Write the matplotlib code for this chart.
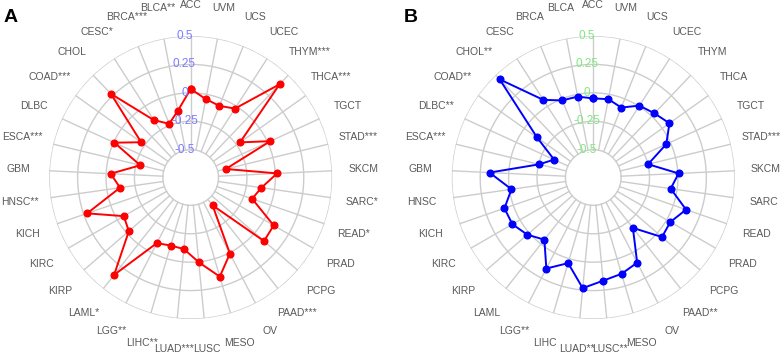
import numpy as np
import matplotlib
matplotlib.use("Agg")
import matplotlib.pyplot as plt

# ---------------- data ----------------
CANCERS = ["ACC", "BLCA", "BRCA", "CESC", "CHOL", "COAD", "DLBC", "ESCA", "GBM",
           "HNSC", "KICH", "KIRC", "KIRP", "LAML", "LGG", "LIHC", "LUAD", "LUSC",
           "MESO", "OV", "PAAD", "PCPG", "PRAD", "READ", "SARC", "SKCM", "STAD",
           "TGCT", "THCA", "THYM", "UCEC", "UCS", "UVM"]

STARS_A = ["", "**", "***", "*", "", "***", "", "***", "",
           "**", "", "", "", "*", "**", "**", "***", "",
           "", "", "***", "", "", "*", "*", "", "***",
           "", "***", "***", "", "", ""]

STARS_B = ["", "", "", "", "**", "**", "**", "***", "",
           "", "", "", "", "", "**", "", "**", "**",
           "", "", "**", "", "", "", "", "", "***",
           "", "", "", "", "", ""]

VALUES_A = [0.034, -0.147, -0.236, -0.144, 0.273, -0.210, -0.007, -0.288, -0.040,
            -0.117, 0.219, -0.065, -0.025, 0.345, -0.096, -0.121, -0.113, 0.004,
            0.164, 0.008, -0.434, 0.109, 0.098, -0.173, -0.116, 0.016, -0.427,
            0.025, -0.212, 0.389, -0.024, -0.066, -0.042]

VALUES_B = [-0.049, -0.020, -0.014, 0.067, 0.448, -0.138, -0.366, -0.254, 0.169,
            -0.018, 0.082, 0.077, 0.023, -0.049, 0.156, 0.040, 0.233, 0.167,
            0.138, 0.098, -0.181, 0.055, 0.038, 0.119, -0.057, 0.007, -0.249,
            -0.039, 0.078, 0.035, 0.007, -0.082, -0.043]

RTICKS = [-0.5, -0.25, 0, 0.25, 0.5]
RTICK_LABELS = ["-0.5", "-0.25", "0", "0.25", "0.5"]

# ---------------- style ----------------
plt.rcParams["font.family"] = ["Liberation Sans", "DejaVu Sans"]
GRID_COL = "#cccccc"
LABEL_COL = "#595959"
R_MIN = -0.745
R_LABEL = 0.775


def radar(ax, values, stars, line_col, tick_col):
    n = len(CANCERS)
    theta = np.arange(n) * 2 * np.pi / n
    ax.set_theta_offset(np.pi / 2)
    ax.set_ylim(R_MIN, 0.5)
    ax.grid(False)
    ax.set_xticks([])
    ax.set_yticks([])
    ax.spines["polar"].set_visible(False)

    # grid circles + spokes
    circ = np.linspace(0, 2 * np.pi, 400)
    for r in RTICKS:
        ax.plot(circ, np.full_like(circ, r), color=GRID_COL, lw=1, zorder=1)
    for t in theta:
        ax.plot([t, t], [RTICKS[0], RTICKS[-1]], color=GRID_COL, lw=1, zorder=1)

    # data polygon
    th = np.append(theta, theta[0])
    v = np.append(values, values[0])
    ax.plot(th, v, color=line_col, lw=1.4, marker="o", ms=4.8, zorder=3)

    # radial tick labels along top spoke
    for r, lab in zip(RTICKS, RTICK_LABELS):
        ax.annotate(lab, (0, r), xytext=(-4.5, 0), textcoords="offset points",
                    ha="center", va="center", fontsize=8.5, color=tick_col,
                    zorder=4, annotation_clip=False)

    # category labels
    for t, name, s in zip(theta, CANCERS, stars):
        ax.text(t, R_LABEL, name + s, ha="center", va="center", fontsize=7.5,
                color=LABEL_COL, clip_on=False)


fig = plt.figure(figsize=(7.82, 3.58), dpi=100)
axA = fig.add_axes([0.0629, 0.1089, 0.3619, 0.7905], projection="polar")
axB = fig.add_axes([0.5777, 0.1089, 0.3619, 0.7905], projection="polar")

radar(axA, VALUES_A, STARS_A, "#ff0000", "#7b7bff")
radar(axB, VALUES_B, STARS_B, "#0000ff", "#80e880")

fig.text(0.004, 0.975, "A", fontsize=14, fontweight="bold", va="top", ha="left")
fig.text(0.516, 0.975, "B", fontsize=14, fontweight="bold", va="top", ha="left")

fig.savefig("out.png", dpi=100)
